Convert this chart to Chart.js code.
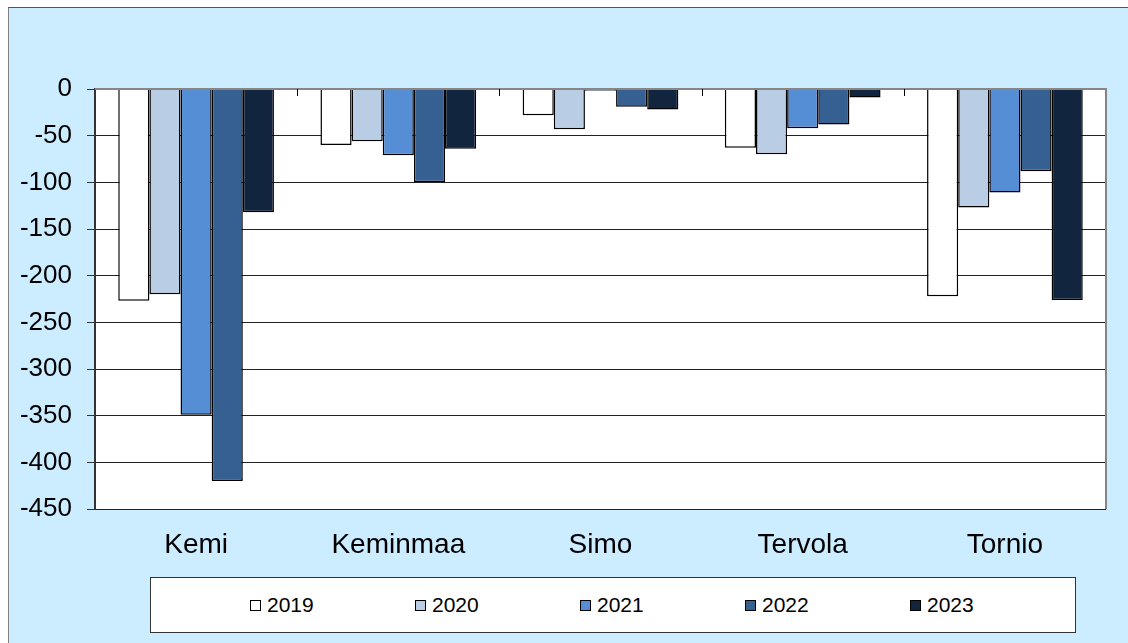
<!DOCTYPE html>
<html>
<head>
<meta charset="utf-8">
<script src="https://cdn.jsdelivr.net/npm/chart.js@4/dist/chart.umd.min.js"></script>
<style>
  html, body { margin: 0; padding: 0; background: #fff; }
  body { width: 1128px; height: 643px; position: relative; overflow: hidden; font-family: "Liberation Sans", Arial, sans-serif; }
  #bg { position: absolute; left: 8px; top: 7px; right: 0; bottom: -5px; background: #CCECFF; border-left: 1px solid #7f7f7f; border-top: 1px solid #555; }
  #holder { position: absolute; left: 0; top: 0; width: 1128px; height: 643px; }
  #legend { position: absolute; left: 150px; top: 577px; width: 926px; height: 56px; background: #fff; border: 1px solid #333; box-sizing: border-box; display: flex; align-items: center; padding-left: 99px; }
  .item { width: 167px; display: flex; align-items: center; font-size: 21px; color: #000; }
  .box { width: 11px; height: 11px; border: 1px solid #000; box-sizing: border-box; margin-right: 6px; }
</style>
</head>
<body>
<div id="bg"></div>
<div id="holder"><canvas id="chart"></canvas></div>
<div id="legend"></div>
<script>
// Data
const kunnat = ['Kemi', 'Keminmaa', 'Simo', 'Tervola', 'Tornio'];
const vuodet = ['2019', '2020', '2021', '2022', '2023'];
const v2019 = [-227, -60, -28, -63, -222];
const v2020 = [-220, -56, -43, -70, -127];
const v2021 = [-349, -71, -2, -42, -111];
const v2022 = [-420, -100, -19, -38, -88];
const v2023 = [-132, -64, -22, -9, -226];
const yTicks = [0, -50, -100, -150, -200, -250, -300, -350, -400, -450];

const varit = ['#FFFFFF', '#B9CDE5', '#558ED5', '#376092', '#12253F'];
const sarjat = [v2019, v2020, v2021, v2022, v2023];

// Valkoinen kuva-ala + reunat + x-akselin jakoviivat ylhaalla
const plotArea = {
  id: 'plotArea',
  beforeDraw(chart) {
    const a = chart.chartArea, ctx = chart.ctx;
    ctx.save();
    ctx.fillStyle = '#fff';
    ctx.fillRect(a.left, a.top, a.right - a.left, a.bottom - a.top);
    ctx.restore();
  },
  afterDatasetsDraw(chart) {
    const a = chart.chartArea, ctx = chart.ctx, x = chart.scales.x;
    ctx.save();
    ctx.strokeStyle = '#868686';
    ctx.lineWidth = 2;
    ctx.beginPath();
    ctx.moveTo(a.left, a.top);
    ctx.lineTo(a.right, a.top);
    ctx.lineTo(a.right, a.bottom);
    ctx.stroke();
    ctx.strokeStyle = '#000';
    ctx.lineWidth = 1;
    for (let i = 0; i < kunnat.length - 1; i++) {
      const px = Math.round((x.getPixelForTick(i) + x.getPixelForTick(i + 1)) / 2) + 0.5;
      ctx.beginPath();
      ctx.moveTo(px, a.top);
      ctx.lineTo(px, a.top + 7);
      ctx.stroke();
    }
    ctx.restore();
  }
};

const chart = new Chart(document.getElementById('chart'), {
  type: 'bar',
  data: {
    labels: kunnat,
    datasets: vuodet.map((v, i) => ({
      label: v,
      data: sarjat[i],
      backgroundColor: varit[i],
      borderColor: '#000',
      borderWidth: 1.5,
      categoryPercentage: 0.77,
      barPercentage: 1.0
    }))
  },
  options: {
    responsive: true,
    maintainAspectRatio: false,
    animation: false,
    layout: { padding: { top: 89, left: 0, right: 22, bottom: 64 } },
    plugins: {
      legend: { display: false },
      tooltip: { enabled: false }
    },
    scales: {
      x: {
        position: 'bottom',
        grid: { display: false, drawTicks: false },
        border: { display: false },
        ticks: { color: '#000', padding: 19, font: { family: '"Liberation Sans", Arial, sans-serif', size: 28 } },
        afterFit(s) { s.height = 70; }
      },
      y: {
        min: -450,
        max: 0,
        afterBuildTicks(s) { s.ticks = yTicks.map(v => ({ value: v })); },
        grid: { color: '#222', lineWidth: 1, tickLength: 8, tickColor: '#333' },
        border: { color: '#333', width: 2 },
        ticks: { color: '#000', padding: 15, font: { family: '"Liberation Sans", Arial, sans-serif', size: 26 } },
        afterFit(s) { s.width = 95; }
      }
    }
  },
  plugins: [plotArea]
});

// Selite
const legend = document.getElementById('legend');
chart.data.datasets.forEach(ds => {
  const item = document.createElement('div');
  item.className = 'item';
  const box = document.createElement('span');
  box.className = 'box';
  box.style.background = ds.backgroundColor;
  const txt = document.createElement('span');
  txt.textContent = ds.label;
  item.appendChild(box);
  item.appendChild(txt);
  legend.appendChild(item);
});
</script>
</body>
</html>
